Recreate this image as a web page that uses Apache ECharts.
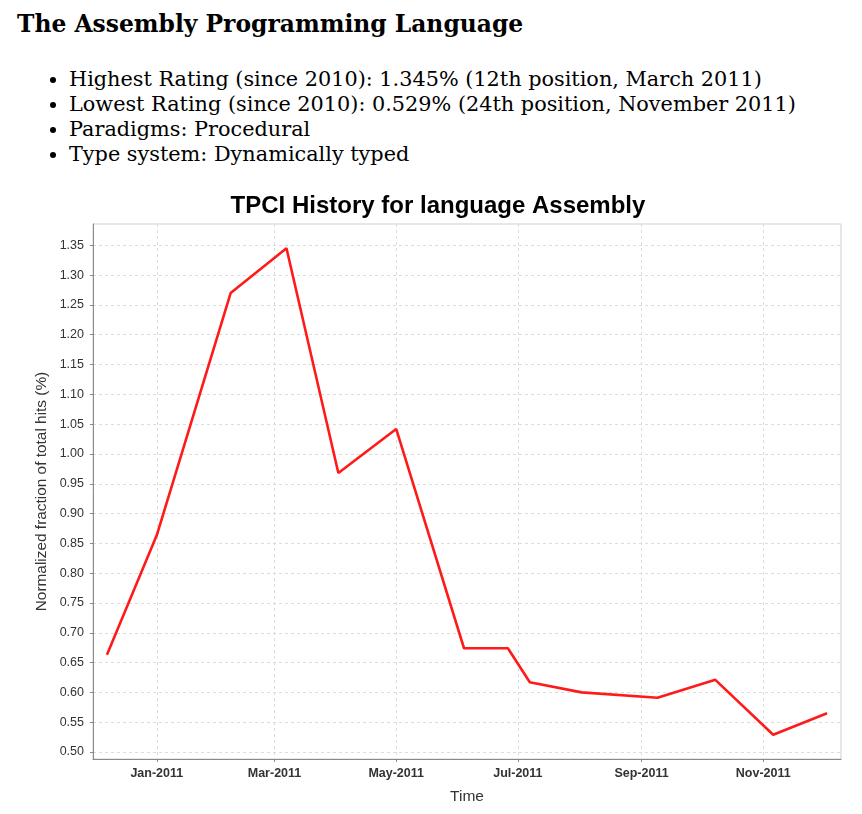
<!DOCTYPE html>
<html>
<head>
<meta charset="utf-8">
<script src="https://cdn.jsdelivr.net/npm/echarts@6/dist/echarts.min.js"></script>
<style>
  html, body { margin: 0; padding: 0; background: #fff; width: 862px; height: 814px; overflow: hidden; }
  #title { position: absolute; left: 17px; top: 10px; font: bold 23.4px "DejaVu Serif", serif; color: #000; white-space: nowrap; }
  #info { position: absolute; left: 29px; top: 67px; margin: 0; padding-left: 40px; font: 20.8px "DejaVu Serif", serif; line-height: 25px; color: #000; }
  #info li { white-space: nowrap; }
  #chart { position: absolute; left: 0; top: 180px; width: 862px; height: 634px; }
</style>
</head>
<body>
<div id="title">The Assembly Programming Language</div>
<ul id="info">
  <li>Highest Rating (since 2010): 1.345% (12th position, March 2011)</li>
  <li>Lowest Rating (since 2010): 0.529% (24th position, November 2011)</li>
  <li>Paradigms: Procedural</li>
  <li>Type system: Dynamically typed</li>
</ul>
<div id="chart"></div>
<script>
const dates = ['2010-12-07','2011-01-01','2011-02-07','2011-03-07','2011-04-02','2011-05-01','2011-06-04','2011-06-26','2011-07-07','2011-08-02','2011-09-09','2011-10-08','2011-11-06','2011-12-03'];
const values = [0.663, 0.864, 1.270, 1.345, 0.968, 1.042, 0.674, 0.674, 0.617, 0.600, 0.591, 0.621, 0.529, 0.565];
const xTickDates = ['2011-01-01','2011-03-01','2011-05-01','2011-07-01','2011-09-01','2011-11-01'];
const yTicks = [0.50,0.55,0.60,0.65,0.70,0.75,0.80,0.85,0.90,0.95,1.00,1.05,1.10,1.15,1.20,1.25,1.30,1.35];
const monthNames = ['Jan','Feb','Mar','Apr','May','Jun','Jul','Aug','Sep','Oct','Nov','Dec'];

function toTs(s) { const p = s.split('-').map(Number); return Date.UTC(p[0], p[1]-1, p[2]); }
const xTicks = xTickDates.map(toTs);
const seriesData = dates.map((d, i) => [toTs(d), values[i]]);

const chart = echarts.init(document.getElementById('chart'), null, { renderer: 'canvas' });
const font = '"Liberation Sans", Arial, sans-serif';
chart.setOption({
  animation: false,
  backgroundColor: '#fff',
  title: {
    text: 'TPCI History for language Assembly',
    left: 433, top: 9, textAlign: 'center',
    textStyle: { fontFamily: font, fontWeight: 'bold', fontSize: 24, color: '#000' }
  },
  grid: { left: 93, right: 21, top: 44, bottom: 55, show: true, borderColor: '#cfcfcf', borderWidth: 1, backgroundColor: '#fff' },
  xAxis: {
    type: 'value',
    min: toTs('2010-11-30'), max: toTs('2011-12-10'),
    name: 'Time', nameLocation: 'middle', nameGap: 30,
    nameTextStyle: { fontFamily: font, fontSize: 15.5, color: '#333' },
    axisLine: { show: true, onZero: false, lineStyle: { color: '#8a8a8a', width: 1 } },
    axisTick: { show: true, length: 3, inside: false, customValues: xTicks, lineStyle: { color: '#8a8a8a' } },
    axisLabel: { customValues: xTicks, fontFamily: font, fontSize: 12.5, fontWeight: 'bold', color: '#333', margin: 8,
      formatter: v => { const d = new Date(v); return monthNames[d.getUTCMonth()] + '-' + d.getUTCFullYear(); } },
    splitLine: { show: true, lineStyle: { color: '#dcdcdc', type: [3, 3], width: 1 } }
  },
  yAxis: {
    type: 'value',
    min: 0.4882, max: 1.3858,
    name: 'Normalized fraction of total hits (%)', nameLocation: 'middle', nameGap: 41, nameRotate: 90,
    nameTextStyle: { fontFamily: font, fontSize: 15.4, color: '#333' },
    axisLine: { show: true, onZero: false, lineStyle: { color: '#8a8a8a', width: 1 } },
    axisTick: { show: true, length: 3, customValues: yTicks, lineStyle: { color: '#8a8a8a' } },
    axisLabel: { customValues: yTicks, fontFamily: font, fontSize: 12.5, color: '#333', margin: 9,
      formatter: v => v.toFixed(2) },
    splitLine: { show: true, lineStyle: { color: '#dcdcdc', type: [3, 3], width: 1 } }
  },
  series: [{
    type: 'line',
    data: seriesData,
    symbol: 'none',
    lineStyle: { color: '#ff1a1a', width: 2.6 },
    itemStyle: { color: '#ff1a1a' }
  }]
});
</script>
</body>
</html>
